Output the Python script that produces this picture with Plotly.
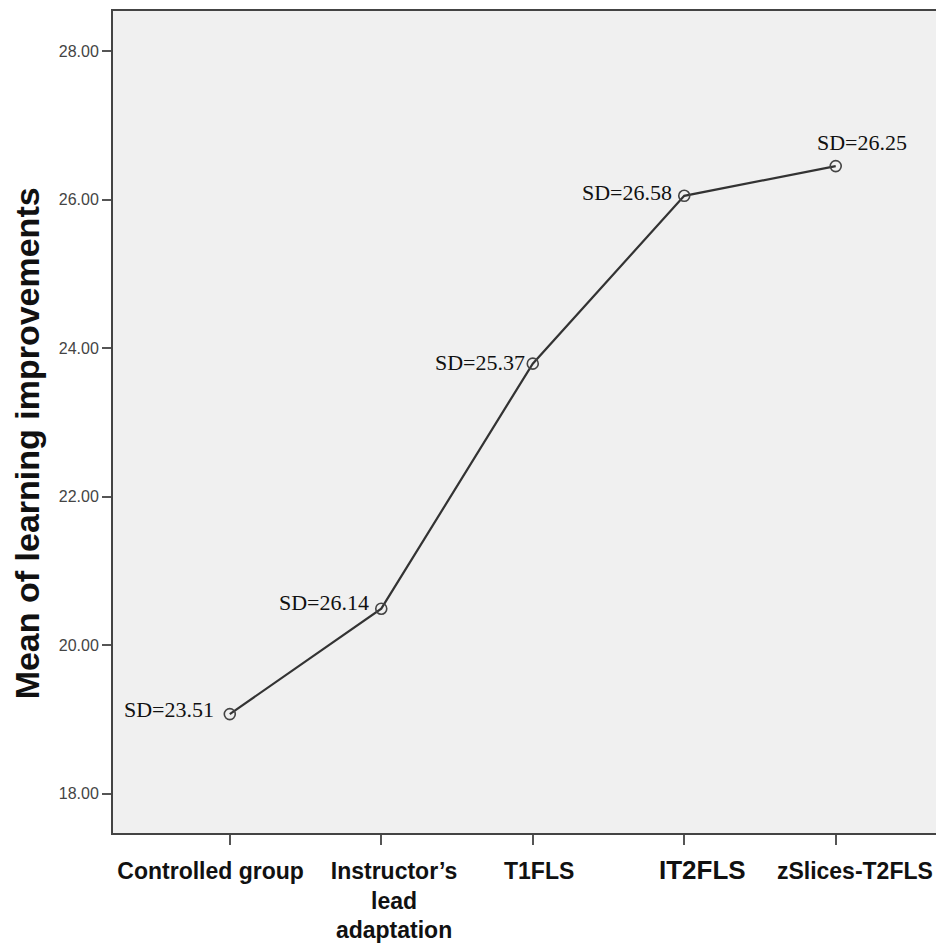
import plotly.graph_objects as go

NB = "\u00a0"
categories = [
    "Controlled group" + NB * 6,
    NB * 4 + "Instructor’s<br>" + NB * 4 + "lead<br>" + NB * 4 + "adaptation",
    NB * 2 + "T1FLS",
    "<span style='font-size:26px'>" + NB * 5 + "IT2FLS</span>",
    NB * 6 + "zSlices-T2FLS",
]
means = [19.07, 20.49, 23.79, 26.05, 26.45]
sd_labels = ["SD=23.51", "SD=26.14", "SD=25.37", "SD=26.58", "SD=26.25"]
y_ticks = [18, 20, 22, 24, 26, 28]
y_ticktext = ["18.00", "20.00", "22.00", "24.00", "26.00", "28.00"]

x_idx = list(range(len(categories)))

fig = go.Figure()
fig.add_trace(go.Scatter(
    x=x_idx, y=means, mode="lines+markers",
    line=dict(color="#333333", width=2.2),
    marker=dict(symbol="circle-open", size=11, color="#444444", line=dict(width=1.6)),
    showlegend=False, hoverinfo="skip",
))

# label placement styles (anchor, shifts)
label_style = [
    dict(xanchor="right", yanchor="middle", xshift=-14, yshift=5),
    dict(xanchor="right", yanchor="middle", xshift=-10, yshift=6),
    dict(xanchor="right", yanchor="middle", xshift=-6, yshift=1),
    dict(xanchor="right", yanchor="middle", xshift=-10, yshift=3),
    dict(xanchor="center", yanchor="middle", xshift=26, yshift=24),
]
for xi, m, t, st in zip(x_idx, means, sd_labels, label_style):
    fig.add_annotation(x=xi, y=m, xref="x", yref="y", text=t, showarrow=False,
                       font=dict(family="Liberation Serif, Times New Roman, serif", size=22, color="#111111"),
                       **st)

fig.add_annotation(
    text="<b>Mean of learning improvements</b>", textangle=-90, showarrow=False,
    xref="paper", yref="paper", x=-0.104, y=0.4745, xanchor="center", yanchor="middle",
    font=dict(family="Liberation Sans, Arial, sans-serif", size=34, color="#111111"),
)

fig.update_layout(
    width=928, height=936,
    margin=dict(l=105, r=0, t=3, b=111),
    paper_bgcolor="white", plot_bgcolor="#f0f0f0",
    xaxis=dict(
        range=[-0.771, 4.662], tickmode="array", tickvals=x_idx, ticktext=categories,
        showgrid=False, zeroline=False, showline=True, linecolor="#444444", linewidth=2,
        mirror=True, ticks="outside", ticklen=10, tickwidth=2, tickcolor="#555555",
        ticklabelstandoff=6, ticklabeloverflow="allow",
        tickfont=dict(family="Liberation Sans, Arial, sans-serif", size=23, color="#111111", weight="bold"),
        tickangle=0,
    ),
    yaxis=dict(
        range=[17.469, 28.539], tickmode="array", tickvals=y_ticks, ticktext=y_ticktext,
        showgrid=False, zeroline=False, showline=True, linecolor="#444444", linewidth=2,
        ticks="outside", ticklen=9, tickwidth=2, tickcolor="#555555",
        tickfont=dict(family="Liberation Sans, Arial, sans-serif", size=16, color="#444444"),
    ),
)

fig.write_html("out.html")
